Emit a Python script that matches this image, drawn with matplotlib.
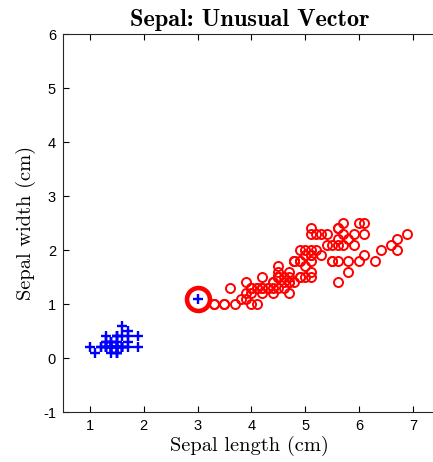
import matplotlib
matplotlib.use("Agg")
import matplotlib.pyplot as plt

plt.rcParams['axes.unicode_minus'] = False

# Petal measurements (iris) – class 1 (blue +)
blue_len = [1.4,1.4,1.3,1.5,1.4,1.7,1.4,1.5,1.4,1.5,1.5,1.6,1.4,1.1,1.2,1.5,1.3,1.4,1.7,1.5,
            1.7,1.5,1.0,1.7,1.9,1.6,1.6,1.5,1.4,1.6,1.6,1.5,1.5,1.4,1.5,1.2,1.3,1.5,1.3,1.5,
            1.3,1.3,1.3,1.6,1.9,1.4,1.6,1.4,1.5,1.4,
            3.0]
blue_wid = [0.2,0.2,0.2,0.2,0.2,0.4,0.3,0.2,0.2,0.1,0.2,0.2,0.1,0.1,0.2,0.4,0.4,0.3,0.3,0.3,
            0.2,0.4,0.2,0.5,0.2,0.2,0.4,0.2,0.2,0.2,0.2,0.4,0.1,0.2,0.2,0.2,0.2,0.1,0.2,0.2,
            0.3,0.3,0.2,0.6,0.4,0.3,0.2,0.2,0.2,0.2,
            1.1]

# class 2 (red o)
red_len = [4.7,4.5,4.9,4.0,4.6,4.5,4.7,3.3,4.6,3.9,3.5,4.2,4.0,4.7,3.6,4.4,4.5,4.1,4.5,3.9,
           4.8,4.0,4.9,4.7,4.3,4.4,4.8,5.0,4.5,3.5,3.8,3.7,3.9,5.1,4.5,4.5,4.7,4.4,4.1,4.0,
           4.4,4.6,4.0,3.3,4.2,4.2,4.2,4.3,4.1,
           6.0,5.1,5.9,5.6,5.8,6.6,4.5,6.3,5.8,6.1,5.1,5.3,5.5,5.0,5.1,5.3,5.5,6.7,6.9,5.0,
           5.7,4.9,6.7,4.9,5.7,6.0,4.8,4.9,5.6,5.8,6.1,6.4,5.6,5.1,5.6,6.1,5.6,5.5,4.8,5.4,
           5.6,5.1,5.1,5.9,5.7,5.2,5.0,5.2,5.4,5.1]
red_wid = [1.4,1.5,1.5,1.3,1.5,1.3,1.6,1.0,1.3,1.4,1.0,1.5,1.0,1.4,1.3,1.4,1.5,1.0,1.5,1.1,
           1.8,1.3,1.5,1.2,1.3,1.4,1.4,1.7,1.5,1.0,1.1,1.0,1.2,1.6,1.5,1.6,1.5,1.3,1.3,1.3,
           1.2,1.4,1.2,1.0,1.3,1.2,1.3,1.3,1.3,
           2.5,1.9,2.1,1.8,2.2,2.1,1.7,1.8,1.8,2.5,2.0,1.9,2.1,2.0,2.4,2.3,1.8,2.2,2.3,1.5,
           2.3,2.0,2.0,1.8,2.1,1.8,1.8,1.8,2.1,1.6,1.9,2.0,2.2,1.5,1.4,2.3,2.4,1.8,1.8,2.1,
           2.4,2.3,1.9,2.3,2.5,2.3,1.9,2.0,2.3,1.8]

# unusual vector
unusual = (3.0, 1.1)

xticks = [1, 2, 3, 4, 5, 6, 7]
yticks = [-1, 0, 1, 2, 3, 4, 5, 6]

fig = plt.figure(figsize=(4.33, 4.62), dpi=100)
ax = fig.add_axes([63/433, 50/462, 373/433, 378/462])

ax.plot(red_len, red_wid, 'o', ls='none', mfc='none', mec='#ff0000', ms=6.5, mew=1.4)
ax.plot(blue_len, blue_wid, '+', ls='none', color='#0000ff', ms=7.5, mew=1.7)
ax.plot([unusual[0]], [unusual[1]], 'o', mfc='none', mec='#ff0000', ms=16.5, mew=3.3)

ax.set_xlim(0.5, 7.43)
ax.set_ylim(-1, 6)
ax.set_xticks(xticks)
ax.set_yticks(yticks)
ax.set_xticklabels([str(t) for t in xticks], family='Liberation Sans', fontsize=10.5)
ax.set_yticklabels([str(t) for t in yticks], family='Liberation Sans', fontsize=10.5)
ax.tick_params(direction='in', length=4, width=0.8, top=True, right=False, pad=5)
ax.spines['right'].set_visible(False)
for s in ['left', 'bottom', 'top']:
    ax.spines[s].set_linewidth(0.8)
    ax.spines[s].set_color('#262626')

ax.set_xlabel('Sepal length (cm)', family='cmr10', fontsize=14.7, labelpad=2)
ax.set_ylabel('Sepal width (cm)', family='cmr10', fontsize=14.7, labelpad=5)
ax.set_title('Sepal: Unusual Vector', family='cmb10', fontsize=17.5, pad=6)

fig.savefig('out.png', dpi=100)
